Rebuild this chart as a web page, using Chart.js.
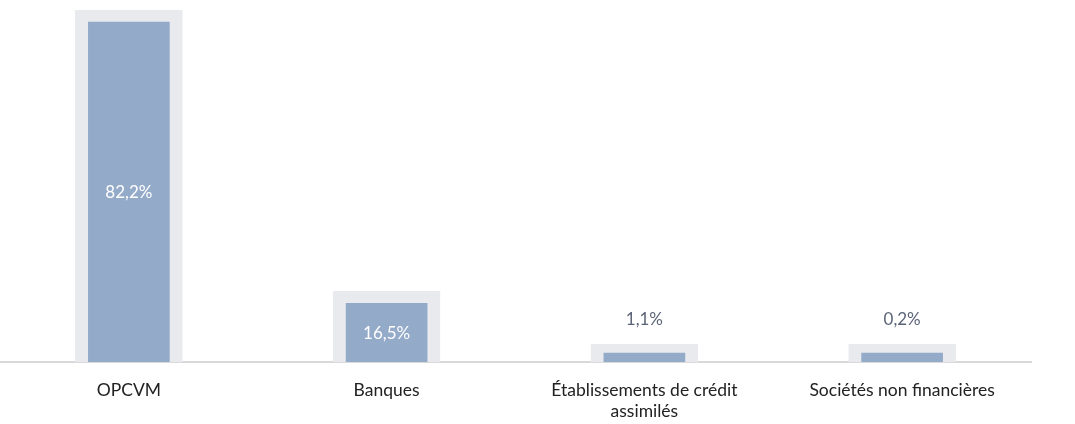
<!DOCTYPE html>
<html>
<head>
<meta charset="utf-8">
<script src="https://cdn.jsdelivr.net/npm/chart.js@4/dist/chart.umd.min.js"></script>
<style>
  html, body { margin: 0; padding: 0; background: #ffffff; }
  #wrap { width: 1075px; height: 424px; position: relative; }
</style>
</head>
<body>
<div id="wrap"><canvas id="c"></canvas></div>
<script>
const categories = ["OPCVM", "Banques", ["Établissements de crédit", "assimilés"], "Sociétés non financières"];
const values = [82.2, 16.5, 1.1, 0.2];
const valueLabels = ["82,2%", "16,5%", "1,1%", "0,2%"];

const labelPlugin = {
  id: 'valueLabels',
  afterDatasetsDraw(chart) {
    const ctx = chart.ctx;
    const meta = chart.getDatasetMeta(0);
    ctx.save();
    ctx.font = '17px Lato, "Open Sans", sans-serif';
    ctx.textAlign = 'center';
    ctx.textBaseline = 'middle';
    meta.data.forEach((bar, i) => {
      const p = bar.getProps(['x', 'y', 'base'], true);
      const h = p.base - p.y;
      if (h > 45) {
        ctx.fillStyle = '#ffffff';
        ctx.fillText(valueLabels[i], p.x, (p.y + 12 + p.base) / 2 + 1);
      } else {
        ctx.fillStyle = '#5b6478';
        ctx.fillText(valueLabels[i], p.x, p.y - 24);
      }
    });
    ctx.restore();
  }
};

new Chart(document.getElementById('c'), {
  type: 'bar',
  data: {
    labels: categories,
    datasets: [{
      data: values,
      backgroundColor: '#94aac9',
      borderColor: '#e9eaee',
      borderWidth: { top: 12, left: 13, right: 13, bottom: 0 },
      borderSkipped: 'start',
      barThickness: 107,
      minBarLength: 18
    }]
  },
  options: {
    responsive: true,
    maintainAspectRatio: false,
    animation: false,
    layout: { padding: { left: 0, right: 44, top: 10, bottom: 0 } },
    plugins: {
      legend: { display: false },
      tooltip: { enabled: false }
    },
    scales: {
      x: {
        grid: { display: false },
        border: { display: true, color: '#d9d9d9', width: 2 },
        afterFit(scale) { scale.height = 62; },
        ticks: {
          color: '#222222',
          font: { family: 'Lato, "Open Sans", sans-serif', size: 17.5, lineHeight: 1.25 },
          padding: 9,
          maxRotation: 0,
          autoSkip: false
        }
      },
      y: {
        display: false,
        min: 0,
        max: Math.max(...values)
      }
    }
  },
  plugins: [labelPlugin]
});
</script>
</body>
</html>
